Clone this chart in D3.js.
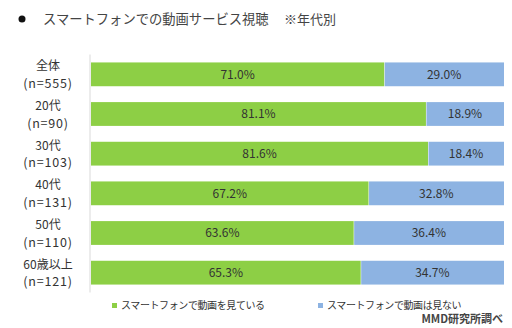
<!DOCTYPE html>
<html>
<head>
<meta charset="utf-8">
<script src="https://cdn.jsdelivr.net/npm/d3@7"></script>
<style>
  body { margin: 0; background: #fff; }
  svg { display: block; font-family: "Noto Sans CJK JP", "Noto Sans", sans-serif; }
</style>
</head>
<body>
<div id="chart"></div>
<script>
// age groups and sample sizes
const groups = ["全体", "20代", "30代", "40代", "50代", "60歳以上"];
const sampleSizes = ["(n=555)", "(n=90)", "(n=103)", "(n=131)", "(n=110)", "(n=121)"];
// share watching videos on smartphone vs not (%)
const watching = [71.0, 81.1, 81.6, 67.2, 63.6, 65.3];
const notWatching = [29.0, 18.9, 18.4, 32.8, 36.4, 34.7];
const seriesNames = ["スマートフォンで動画を見ている", "スマートフォンで動画は見ない"];
const colors = ["#8dcf45", "#8db3e2"];

const width = 512, height = 328;
const svg = d3.select("#chart").append("svg")
  .attr("width", width)
  .attr("height", height);

// title
svg.append("circle").attr("cx", 22).attr("cy", 19).attr("r", 3.5).attr("fill", "#111");
svg.append("text")
  .attr("x", 43).attr("y", 24)
  .attr("font-size", 13.3).attr("fill", "#444")
  .text("スマートフォンでの動画サービス視聴");
svg.append("text")
  .attr("x", 284).attr("y", 24)
  .attr("font-size", 13).attr("fill", "#444")
  .text("※年代別");

const x = d3.scaleLinear().domain([0, 100]).range([91, 504]);
const y = d3.scaleBand()
  .domain(d3.range(groups.length))
  .range([54.5, 292.5])
  .paddingInner(0.4)
  .paddingOuter(0.2);

// vertical axis line
svg.append("line")
  .attr("x1", 90).attr("x2", 90)
  .attr("y1", y.range()[0]).attr("y2", y.range()[1])
  .attr("stroke", "#d9d9d9");

const rows = svg.selectAll("g.row")
  .data(groups)
  .join("g")
  .attr("class", "row")
  .attr("transform", (d, i) => `translate(0 ${y(i)})`);

rows.append("rect")
  .attr("x", x(0))
  .attr("width", (d, i) => x(watching[i]) - x(0))
  .attr("height", y.bandwidth())
  .attr("fill", colors[0]);

rows.append("rect")
  .attr("x", (d, i) => x(watching[i]) + 0.5)
  .attr("width", (d, i) => x(watching[i] + notWatching[i]) - x(watching[i]) - 0.5)
  .attr("height", y.bandwidth())
  .attr("fill", colors[1]);

rows.append("text")
  .attr("x", (d, i) => (x(0) + x(watching[i])) / 2)
  .attr("y", y.bandwidth() / 2 + 4.5)
  .attr("text-anchor", "middle")
  .attr("font-size", 12).attr("fill", "#333")
  .text((d, i) => watching[i].toFixed(1) + "%");

rows.append("text")
  .attr("x", (d, i) => (x(watching[i]) + x(watching[i] + notWatching[i])) / 2)
  .attr("y", y.bandwidth() / 2 + 4.5)
  .attr("text-anchor", "middle")
  .attr("font-size", 12).attr("fill", "#333")
  .text((d, i) => notWatching[i].toFixed(1) + "%");

// category labels
rows.append("text")
  .attr("x", 48).attr("y", 8)
  .attr("text-anchor", "middle")
  .attr("font-size", 12).attr("fill", "#333")
  .text(d => d);

rows.append("text")
  .attr("x", 48).attr("y", 25.5)
  .attr("text-anchor", "middle")
  .attr("font-size", 12.5).attr("letter-spacing", 0.8).attr("fill", "#333")
  .text((d, i) => sampleSizes[i]);

// legend
const legendX = [112, 318];
const legend = svg.selectAll("g.legend")
  .data(seriesNames)
  .join("g")
  .attr("class", "legend")
  .attr("transform", (d, i) => `translate(${legendX[i]} 308)`);

legend.append("rect")
  .attr("x", 0).attr("y", -5)
  .attr("width", 5).attr("height", 5)
  .attr("fill", (d, i) => colors[i]);

legend.append("text")
  .attr("x", 9).attr("y", 1)
  .attr("font-size", 10).attr("letter-spacing", -0.4).attr("fill", "#333")
  .text(d => d);

svg.append("text")
  .attr("x", 503).attr("y", 323)
  .attr("text-anchor", "end")
  .attr("font-size", 11).attr("font-weight", "bold").attr("fill", "#444")
  .text("MMD研究所調べ");
</script>
</body>
</html>
